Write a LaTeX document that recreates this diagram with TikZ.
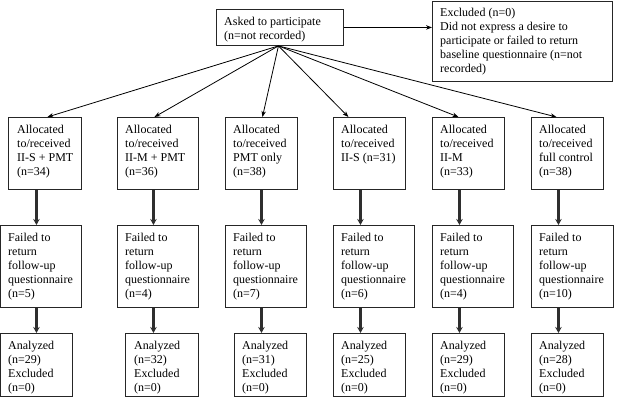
\documentclass[tikz,border=0pt]{standalone}
\usepackage{fontspec}
\setmainfont{Liberation Serif}
\usetikzlibrary{arrows.meta}
\begin{document}
\begin{tikzpicture}[x=1pt,y=-1pt,
  box/.style={draw=black!85,line width=0.9pt,inner sep=0pt,anchor=north west,rectangle},
  txt/.style={anchor=north west,inner sep=0pt,align=left,font=\fontsize{12}{14}\selectfont},
  fan/.style={draw=black,line width=0.8pt,-{Stealth[length=6pt,width=4.5pt]}},
  down/.style={draw=black!82,line width=2.2pt,-{Stealth[length=6pt,width=6.5pt]}}]
\useasboundingbox (0,0) rectangle (618,403);
% top boxes
\node[box,minimum width=127pt,minimum height=36pt] (top) at (216,9) {};
\node[txt] (topt) at (224,15.2) {\strut Asked to participate\\(n=not recorded)};
\node[box,minimum width=180pt,minimum height=80pt] (exc) at (432,1) {};
\node[txt] (exct) at (440,6.2) {\strut Excluded (n=0)\\Did not express a desire to\\participate or failed to return\\baseline questionnaire (n=not\\recorded)};
% row 1
\node[box,minimum width=73pt,minimum height=72pt] (a1) at (8,117) {};
\node[box,minimum width=81pt,minimum height=72pt] (a2) at (117,117) {};
\node[box,minimum width=72pt,minimum height=72pt] (a3) at (225,117) {};
\node[box,minimum width=72pt,minimum height=72pt] (a4) at (333,117) {};
\node[box,minimum width=72pt,minimum height=72pt] (a5) at (432,117) {};
\node[box,minimum width=72pt,minimum height=72pt] (a6) at (531,117) {};
\node[txt] (a1t) at (17,123.2) {\strut Allocated\\to/received\\II-S + PMT\\(n=34)};
\node[txt] (a2t) at (125,123.2) {\strut Allocated\\to/received\\II-M + PMT\\(n=36)};
\node[txt] (a3t) at (233,123.2) {\strut Allocated\\to/received\\PMT only\\(n=38)};
\node[txt] (a4t) at (341,123.2) {\strut Allocated\\to/received\\II-S (n=31)};
\node[txt] (a5t) at (440,123.2) {\strut Allocated\\to/received\\II-M\\(n=33)};
\node[txt] (a6t) at (539,123.2) {\strut Allocated\\to/received\\full control\\(n=38)};
% row 2
\node[box,minimum width=81pt,minimum height=82pt] (f1) at (0,225) {};
\node[box,minimum width=81pt,minimum height=82pt] (f2) at (117,225) {};
\node[box,minimum width=81pt,minimum height=82pt] (f3) at (225,225) {};
\node[box,minimum width=81pt,minimum height=82pt] (f4) at (333,225) {};
\node[box,minimum width=81pt,minimum height=82pt] (f5) at (432,225) {};
\node[box,minimum width=82pt,minimum height=82pt] (f6) at (531,225) {};
\node[txt] (f1t) at (8,231.2) {\strut Failed to\\return\\follow-up\\questionnaire\\(n=5)};
\node[txt] (f2t) at (125,231.2) {\strut Failed to\\return\\follow-up\\questionnaire\\(n=4)};
\node[txt] (f3t) at (233,231.2) {\strut Failed to\\return\\follow-up\\questionnaire\\(n=7)};
\node[txt] (f4t) at (341,231.2) {\strut Failed to\\return\\follow-up\\questionnaire\\(n=6)};
\node[txt] (f5t) at (440,231.2) {\strut Failed to\\return\\follow-up\\questionnaire\\(n=4)};
\node[txt] (f6t) at (539,231.2) {\strut Failed to\\return\\follow-up\\questionnaire\\(n=10)};
% row 3
\node[box,minimum width=72pt,minimum height=63pt] (n1) at (0,333) {};
\node[box,minimum width=73pt,minimum height=63pt] (n2) at (125,333) {};
\node[box,minimum width=72pt,minimum height=63pt] (n3) at (234,333) {};
\node[box,minimum width=72pt,minimum height=63pt] (n4) at (333,333) {};
\node[box,minimum width=72pt,minimum height=63pt] (n5) at (432,333) {};
\node[box,minimum width=72pt,minimum height=63pt] (n6) at (531,333) {};
\node[txt] (n1t) at (8,339.2) {\strut Analyzed\\(n=29)\\Excluded\\(n=0)};
\node[txt] (n2t) at (134,339.2) {\strut Analyzed\\(n=32)\\Excluded\\(n=0)};
\node[txt] (n3t) at (242,339.2) {\strut Analyzed\\(n=31)\\Excluded\\(n=0)};
\node[txt] (n4t) at (341,339.2) {\strut Analyzed\\(n=25)\\Excluded\\(n=0)};
\node[txt] (n5t) at (440,339.2) {\strut Analyzed\\(n=29)\\Excluded\\(n=0)};
\node[txt] (n6t) at (539,339.2) {\strut Analyzed\\(n=28)\\Excluded\\(n=0)};
% arrows
\draw[fan] (top.east) -- (exc.west |- top.east);
\draw[fan] ([xshift=-1.5pt]top.south) -- ([xshift=2.5pt]a1.north);
\draw[fan] ([xshift=-1.5pt]top.south) -- ([xshift=-3.5pt]a2.north);
\draw[fan] ([xshift=-1.5pt]top.south) -- ([xshift=1pt]a3.north);
\draw[fan] ([xshift=-1.5pt]top.south) -- ([xshift=-21pt]a4.north);
\draw[fan] ([xshift=-1.5pt]top.south) -- ([xshift=-10pt]a5.north);
\draw[fan] ([xshift=-1.5pt]top.south) -- ([xshift=-11pt]a6.north);
\foreach \i/\s in {1/-8.5,2/-4.5,3/0,4/-9,5/-9,6/-9}{
  \draw[down] ([xshift=\s pt]a\i.south) -- ([xshift=\s pt]a\i.south |- f\i.north);
  \draw[down] ([xshift=\s pt]a\i.south |- f\i.south) -- ([xshift=\s pt]a\i.south |- n\i.north);
}
\end{tikzpicture}
\end{document}
